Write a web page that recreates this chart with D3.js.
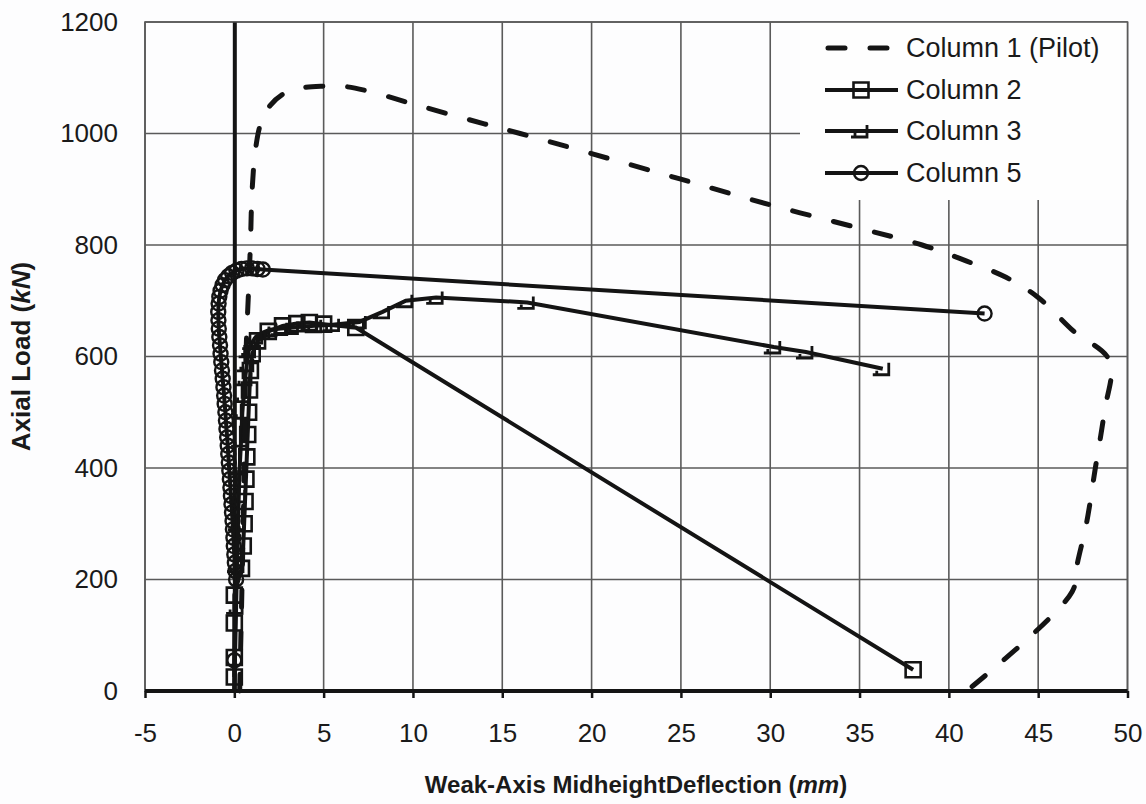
<!DOCTYPE html>
<html>
<head>
<meta charset="utf-8">
<script src="https://cdn.jsdelivr.net/npm/d3@7/dist/d3.min.js"></script>
<style>
  html, body { margin: 0; padding: 0; background: #fdfdfe; }
  svg { display: block; font-family: "Liberation Sans", Arial, sans-serif; }
</style>
</head>
<body>
<svg id="chart" width="1146" height="804"></svg>
<script>
// Axial load vs. weak-axis midheight deflection, four test columns
const xTicks = [-5, 0, 5, 10, 15, 20, 25, 30, 35, 40, 45, 50];
const yTicks = [0, 200, 400, 600, 800, 1000, 1200];

// Column 1 (Pilot)
const col1X = [0.3, 0.5, 0.65, 0.8, 0.9, 1.0, 1.2, 1.5, 2.0, 2.8, 3.8, 5.0, 6.0, 7.5, 10, 13, 16, 20, 25, 30, 35, 38.5, 41, 43.2, 45, 47, 49, 48.7, 48.2, 47.7, 47.2, 46.9, 41.3];
const col1Y = [0, 300, 600, 720, 800, 900, 975, 1020, 1050, 1072, 1082, 1085, 1085, 1076, 1053, 1026, 1000, 964, 918, 872, 830, 800, 771, 742, 706, 645, 592, 500, 400, 300, 230, 178, 8];

// Column 2
const col2X = [0, 0, 0, 0, 0.4, 0.5, 0.55, 0.6, 0.65, 0.7, 0.75, 0.8, 0.85, 0.9, 1.0, 1.3, 1.9, 2.7, 3.5, 4.2, 5.0, 6.8, 38];
const col2Y = [25, 60, 122, 172, 220, 260, 300, 340, 380, 420, 460, 500, 540, 575, 605, 628, 645, 655, 659, 661, 658, 652, 38];

// Column 3
const col3X = [0, 0.1, 0.15, 0.2, 0.25, 0.3, 0.38, 0.45, 0.52, 0.6, 0.7, 0.8, 1.0, 1.2, 1.6, 2.0, 2.6, 3.2, 4.5, 5.5, 7.0, 8.3, 9.6, 11.3, 16.4, 30.2, 32, 36.3];
const col3Y = [0, 150, 225, 300, 350, 400, 450, 500, 530, 560, 585, 610, 625, 635, 643, 648, 650, 652, 655, 657, 662, 680, 700, 706, 697, 617, 608, 578];

// Column 5
const col5X = [0, 0, 0.10, 0.06, 0.03, 0.00, -0.03, -0.05, -0.08, -0.10, -0.13, -0.16, -0.19, -0.22, -0.25, -0.28, -0.31, -0.34, -0.37, -0.40, -0.44, -0.47, -0.50, -0.54, -0.57, -0.61, -0.65, -0.69, -0.73, -0.77, -0.80, -0.84, -0.87, -0.89, -0.90, -0.88, -0.84, -0.77, -0.66, -0.52, -0.34, -0.12, 0.12, 0.40, 0.70, 1.00, 1.30, 1.60, 42];
const col5Y = [0, 55, 200, 215, 230, 245, 260, 275, 290, 305, 320, 335, 350, 365, 380, 395, 410, 425, 440, 455, 470, 485, 500, 515, 530, 545, 560, 575, 590, 605, 620, 635, 650, 665, 680, 695, 707, 718, 728, 737, 744, 750, 754, 757, 758, 758, 757, 756, 677];

const seriesNames = ["Column 1 (Pilot)", "Column 2", "Column 3", "Column 5"];

const svg = d3.select("#chart");
const x = d3.scaleLinear().domain([-5, 50]).range([145, 1127.5]);
const y = d3.scaleLinear().domain([0, 1200]).range([691, 22]);

const gridColor = "#5a5a5a";
const ink = "#141414";
const fontStack = "'Liberation Sans', Arial, sans-serif";

// gridlines
const grid = svg.append("g");
grid.selectAll("line.vx").data(xTicks).join("line")
  .attr("x1", d => x(d)).attr("x2", d => x(d))
  .attr("y1", y(1200)).attr("y2", y(0))
  .attr("stroke", gridColor).attr("stroke-width", 1.6);
grid.selectAll("line.hy").data(yTicks).join("line")
  .attr("x1", x(-5)).attr("x2", x(50))
  .attr("y1", d => y(d)).attr("y2", d => y(d))
  .attr("stroke", gridColor).attr("stroke-width", 1.6);

// legend background hides the grid behind it
svg.append("rect").attr("x", 800).attr("y", y(1200)).attr("width", x(50) - 800).attr("height", 200 - y(1200))
  .attr("fill", "#fefefe");

// plot border
svg.append("rect").attr("x", x(-5)).attr("y", y(1200))
  .attr("width", x(50) - x(-5)).attr("height", y(0) - y(1200))
  .attr("fill", "none").attr("stroke", gridColor).attr("stroke-width", 1.6);

// axis lines at x = 0 and y = 0
const xAxis = d3.axisBottom(x).tickValues(xTicks).tickSize(7).tickSizeOuter(0).tickPadding(26).tickFormat(d => String(d));
const gx = svg.append("g").attr("transform", `translate(0,${y(0)})`).call(xAxis);
gx.select(".domain").attr("d", `M${x(-5)},0H${x(50)}`).attr("stroke", ink).attr("stroke-width", 4);
gx.selectAll(".tick line").attr("stroke", ink).attr("stroke-width", 2.5);
gx.selectAll(".tick text").attr("font-size", 26).attr("fill", "#1a1a1a").attr("font-family", fontStack);

const yAxis = d3.axisLeft(y).tickValues(yTicks).tickSize(0).tickSizeOuter(0).tickPadding(0).tickFormat(d => String(d));
const gy = svg.append("g").attr("transform", `translate(${x(0)},0)`).call(yAxis);
gy.select(".domain").attr("stroke", ink).attr("stroke-width", 4);
gy.selectAll(".tick text").attr("font-size", 26).attr("fill", "#1a1a1a").attr("font-family", fontStack)
  .attr("x", 118 - x(0)).attr("text-anchor", "end");

// axis titles
svg.append("text").attr("x", 636).attr("y", 793).attr("text-anchor", "middle")
  .attr("font-size", 24).attr("font-weight", "bold").attr("fill", "#1a1a1a")
  .call(t => {
    t.append("tspan").text("Weak-Axis MidheightDeflection (");
    t.append("tspan").attr("font-style", "italic").text("mm");
    t.append("tspan").text(")");
  });
svg.append("text").attr("transform", `translate(30,${y(600)}) rotate(-90)`).attr("text-anchor", "middle")
  .attr("font-size", 26).attr("font-weight", "bold").attr("fill", "#1a1a1a")
  .call(t => {
    t.append("tspan").text("Axial Load (");
    t.append("tspan").attr("font-style", "italic").text("kN");
    t.append("tspan").text(")");
  });

// series
const zip = (xs, ys) => xs.map((v, i) => [v, ys[i]]);
const line = d3.line().x(d => x(d[0])).y(d => y(d[1]));
const smooth = d3.line().x(d => x(d[0])).y(d => y(d[1])).curve(d3.curveCatmullRom.alpha(0.5));

const plot = svg.append("g");
const c1 = zip(col1X, col1Y), c2 = zip(col2X, col2Y), c3 = zip(col3X, col3Y), c5 = zip(col5X, col5Y);

const lineW = 4;
const squarePath = "M-7.5,-7.5H7.5V7.5H-7.5Z";
const hookPath = "M-10,6H6V-6M-6,6V2";

function squares(g, pts) {
  g.selectAll(null).data(pts).join("path").attr("d", squarePath)
    .attr("transform", d => `translate(${x(d[0])},${y(d[1])})`)
    .attr("fill", "none").attr("stroke", ink).attr("stroke-width", 2.6);
}
function hooks(g, pts) {
  g.selectAll(null).data(pts).join("path").attr("d", hookPath)
    .attr("transform", d => `translate(${x(d[0])},${y(d[1])})`)
    .attr("fill", "none").attr("stroke", ink).attr("stroke-width", 2.8);
}
function circles(g, pts) {
  g.selectAll(null).data(pts).join("circle")
    .attr("cx", d => x(d[0])).attr("cy", d => y(d[1])).attr("r", 7)
    .attr("fill", "none").attr("stroke", ink).attr("stroke-width", 2.4);
}

// Column 5
plot.append("path").attr("d", line(c5)).attr("fill", "none").attr("stroke", ink).attr("stroke-width", lineW);
circles(plot.append("g"), c5.slice(1));
// Column 3
plot.append("path").attr("d", line(c3)).attr("fill", "none").attr("stroke", ink).attr("stroke-width", lineW);
hooks(plot.append("g"), c3.slice(1));
// Column 2
plot.append("path").attr("d", line(c2)).attr("fill", "none").attr("stroke", ink).attr("stroke-width", lineW);
squares(plot.append("g"), c2);
// Column 1 (Pilot)
plot.append("path").attr("d", smooth(c1)).attr("fill", "none").attr("stroke", ink)
  .attr("stroke-width", 5).attr("stroke-dasharray", "17 25").attr("stroke-linecap", "round");

// legend
const legendY = [48, 90, 131, 173];
const lg = svg.append("g");
seriesNames.forEach((name, i) => {
  const ly = legendY[i];
  const seg = lg.append("line").attr("x1", 825).attr("x2", 898).attr("y1", ly).attr("y2", ly)
    .attr("stroke", ink).attr("stroke-width", i === 0 ? 5 : 4);
  if (i === 0) seg.attr("stroke-dasharray", "17 25").attr("stroke-linecap", "round").attr("x1", 828).attr("x2", 897);
  if (i === 1) squares(lg.append("g"), [[x.invert(861), y.invert(ly)]]);
  if (i === 2) hooks(lg.append("g"), [[x.invert(861), y.invert(ly)]]);
  if (i === 3) circles(lg.append("g"), [[x.invert(861), y.invert(ly)]]);
  lg.append("text").attr("x", 906).attr("y", ly).attr("dy", "0.35em")
    .attr("font-size", 27).attr("fill", "#1a1a1a").attr("font-family", fontStack).text(name);
});
</script>
</body>
</html>
